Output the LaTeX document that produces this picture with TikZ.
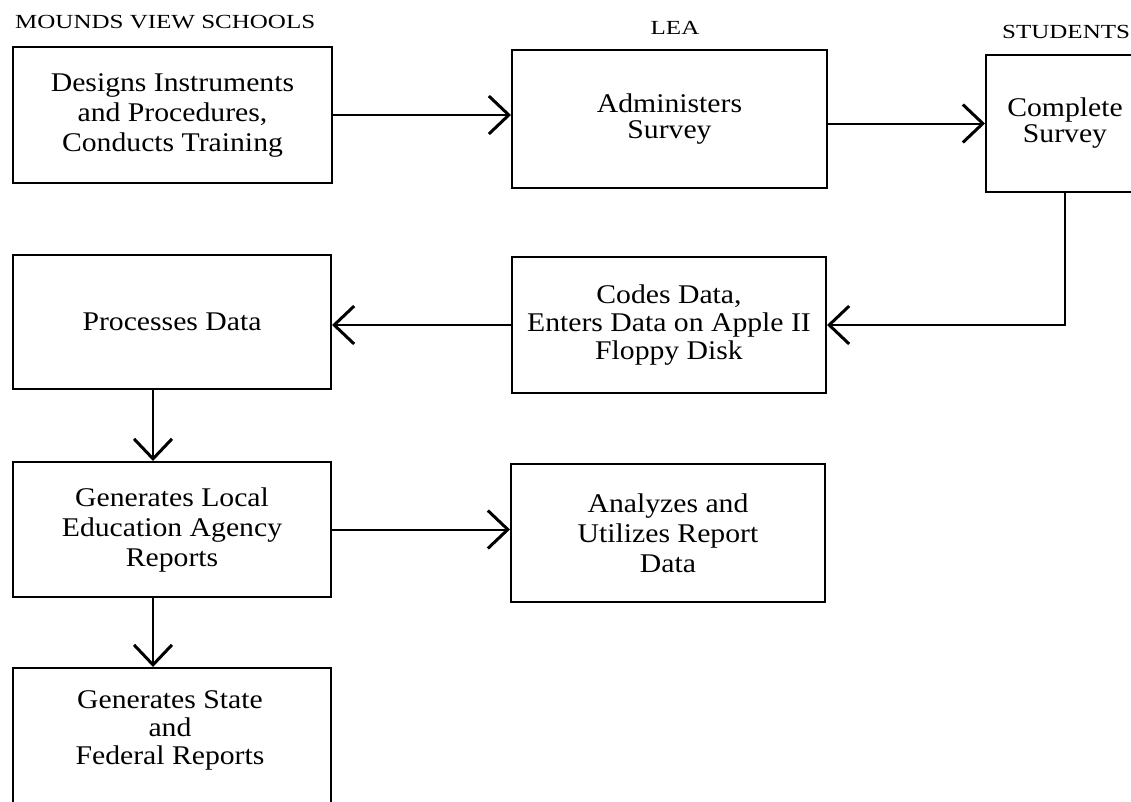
\documentclass[tikz,border=0pt]{standalone}
\usepackage{fontspec}
\setmainfont{Liberation Serif}[FakeStretch=1.1]
\newfontfamily\hdrfont{Liberation Serif}[FakeStretch=1.25]
\usetikzlibrary{arrows.meta}
\begin{document}
\begin{tikzpicture}[x=1pt,y=-1pt,
  box/.style={draw, line width=2pt, rectangle, align=center, inner sep=0pt,
    font=\fontsize{27}{30}\selectfont},
  txt/.style={align=center, inner sep=0pt, font=\fontsize{27}{28}\selectfont},
  hdr/.style={font=\hdrfont\fontsize{20}{24}\selectfont, inner sep=0pt},
  conn/.style={line width=2pt},
  arr/.style={conn, -{Straight Barb[length=20pt,width=38pt,line width=3pt]}}
]
\useasboundingbox (0,0) rectangle (1131,801);
\fill[white] (0,0) rectangle (1131,801);
\clip (0,0) rectangle (1131,801);

% headers
\node[hdr, anchor=west] (hms) at (15,22) {MOUNDS VIEW SCHOOLS};
\node[hdr] (hlea) at (675,28) {LEA};
\node[hdr, anchor=west] (hst) at (1002,32) {STUDENTS};

% boxes
\node[box, minimum width=319, minimum height=136] (b1) at (172.5,115)
  {Designs Instruments\\and Procedures,\\Conducts Training};
\node[box, minimum width=315, minimum height=138,
  font=\fontsize{27}{26}\selectfont] (b2) at (669.5,119)
  {Administers\\Survey};
\node[box, minimum width=158, minimum height=137,
  font=\fontsize{27}{26}\selectfont] (b3) at (1065,123.5)
  {Complete\\Survey};
\node[box, minimum width=314, minimum height=136,
  font=\fontsize{27}{28}\selectfont] (codes) at (669,325)
  {Codes Data,\\Enters Data on Apple II\\Floppy Disk};
\node[box, minimum width=318, minimum height=134] (proc) at (172,322)
  {Processes Data};
\node[box, minimum width=318, minimum height=135] (gl) at (172,529.5)
  {Generates Local\\Education Agency\\Reports};
\node[box, minimum width=314, minimum height=138] (an) at (668,533)
  {Analyzes and\\Utilizes Report\\Data};
\node[box, minimum width=318, minimum height=160, anchor=north] (gs) at (172,667) {};
\node[txt] (gst) at (170,730) {Generates State\\and\\Federal Reports};

% connectors
\draw[arr] (b1.east) -- (b1.east -| b2.west);
\draw[arr] (b2.east |- b3.west) -- (b3.west);
\draw[arr] (b3.south) |- (codes.east);
\draw[arr] (codes.west) -- (codes.west -| proc.east);
\draw[arr] ([xshift=-19pt]proc.south) -- ([xshift=-19pt]gl.north);
\draw[arr] (gl.east) -- (gl.east -| an.west);
\draw[arr] ([xshift=-19pt]gl.south) -- ([xshift=-19pt]gs.north);
\end{tikzpicture}
\end{document}
